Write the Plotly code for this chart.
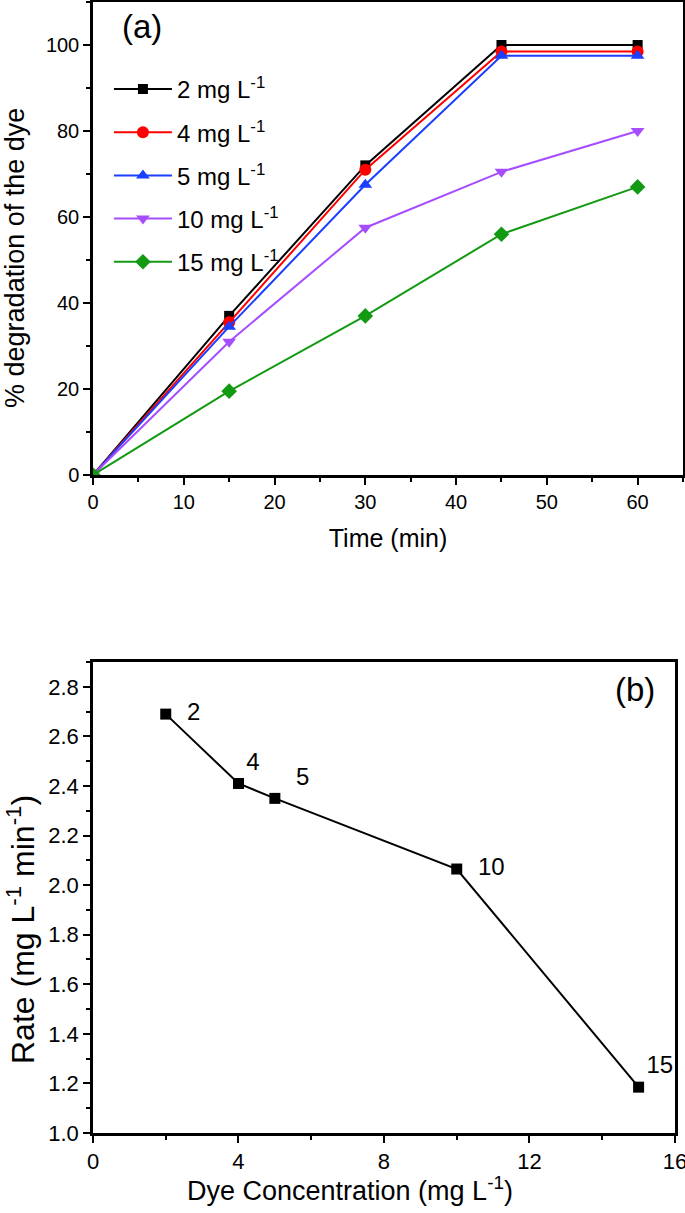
import plotly.graph_objects as go

# ---- data ----
time_min = [0, 15, 30, 45, 60]
deg_2 = [0, 37, 72, 100, 100]
deg_4 = [0, 35.5, 71, 98.5, 98.5]
deg_5 = [0, 34.5, 67.5, 97.5, 97.5]
deg_10 = [0, 31, 57.5, 70.5, 80]
deg_15 = [0, 19.5, 37, 56, 67]
series_names = ["2 mg L<sup>-1</sup>", "4 mg L<sup>-1</sup>", "5 mg L<sup>-1</sup>",
                "10 mg L<sup>-1</sup>", "15 mg L<sup>-1</sup>"]

conc = [2, 4, 5, 10, 15]
rate = [2.69, 2.41, 2.35, 2.065, 1.185]
conc_labels = ["2", "4", "5", "10", "15"]

# ---- styles ----
colors = ["#000000", "#ff0000", "#1a3fff", "#a64dff", "#139a13"]
symbols = ["square", "circle", "triangle-up", "triangle-down", "diamond"]
sizes = [10, 12, 12, 12, 12]
FONT = "Liberation Sans, Arial, Helvetica, sans-serif"

fig = go.Figure()
for i, ys in enumerate([deg_2, deg_4, deg_5, deg_10, deg_15]):
    fig.add_trace(go.Scatter(
        x=time_min, y=ys, mode="lines+markers", name=series_names[i],
        line=dict(color=colors[i], width=2),
        marker=dict(color=colors[i], symbol=symbols[i], size=sizes[i]),
        legendgroup=f"g{i}", xaxis="x", yaxis="y"))

fig.add_trace(go.Scatter(
    x=conc, y=rate, mode="lines+markers+text", text=conc_labels,
    textposition=["middle right", "top right", "top right", "middle right", "top right"],
    texttemplate=["  %{text}", "%{text}", "  %{text}", "  %{text}", "%{text}"],
    textfont=dict(size=24, color="black", family=FONT),
    line=dict(color="black", width=2),
    marker=dict(color="black", symbol="square", size=11),
    showlegend=False, xaxis="x2", yaxis="y2"))

def axis_common(tsize, ttsize):
    return dict(showline=True, linecolor="black", linewidth=2.5, mirror=True,
                ticks="outside", ticklen=7, tickwidth=2, tickcolor="black",
                showgrid=False, zeroline=False, automargin=False,
                ticklabeloverflow="allow",
                tickfont=dict(size=tsize, color="black", family=FONT),
                title_font=dict(size=ttsize, color="black", family=FONT))

minor = lambda d: dict(dtick=d, ticks="outside", ticklen=4, tickwidth=2, tickcolor="black")

fig.update_layout(
    width=685, height=1213,
    margin=dict(l=93, r=2, t=2, b=80),
    plot_bgcolor="white", paper_bgcolor="white",
    font=dict(family=FONT, color="black"),
    xaxis=dict(domain=[0, 1], range=[0, 65], dtick=10, minor=minor(5),
               title=dict(text="Time (min)", standoff=18), anchor="y", **axis_common(20, 25)),
    yaxis=dict(domain=[0.5818, 1.0], range=[0, 110], dtick=20, minor=minor(10),
               anchor="x", **axis_common(20, 29)),
    xaxis2=dict(domain=[0, 0.9864], range=[0, 16], dtick=4, minor=minor(2),
                anchor="y2", **axis_common(22, 27)),
    yaxis2=dict(domain=[0, 0.4164], range=[1.0, 2.9], dtick=0.2, tickformat=".1f", minor=minor(0.1),
                anchor="x2", **axis_common(22, 31)),
    legend=dict(x=0.027, y=0.9426, xanchor="left", yanchor="top",
                font=dict(size=24, color="black", family=FONT),
                bgcolor="rgba(0,0,0,0)", tracegroupgap=9, itemwidth=58),
    annotations=[
        dict(text="(a)", x=0.045, y=1.0, xref="paper", yref="paper", xanchor="left", yanchor="top",
             yshift=-4, showarrow=False, font=dict(size=33, color="black", family=FONT)),
        dict(text="(b)", x=0.956, y=0.41, xref="paper", yref="paper", xanchor="right", yanchor="top",
             showarrow=False, font=dict(size=33, color="black", family=FONT)),
        dict(text="% degradation of the dye", x=-0.1322, y=0.7737, xref="paper", yref="paper",
             textangle=-90, showarrow=False, xanchor="center", yanchor="middle",
             font=dict(size=27, color="black", family=FONT)),
        dict(text="Rate (mg L<sup>-1</sup> min<sup>-1</sup>)", x=-0.1220, y=0.1795,
             xref="paper", yref="paper", textangle=-90, showarrow=False,
             xanchor="center", yanchor="middle", font=dict(size=32, color="black", family=FONT)),
        dict(text="Dye Concentration (mg L<sup>-1</sup>)", x=0.4356, y=-0.0495,
             xref="paper", yref="paper", showarrow=False, xanchor="center", yanchor="middle",
             font=dict(size=27, color="black", family=FONT)),
    ],
)

fig.write_html("out.html", config={"displayModeBar": False},
               post_script="document.body.style.margin='0';document.body.style.overflow='hidden';")
